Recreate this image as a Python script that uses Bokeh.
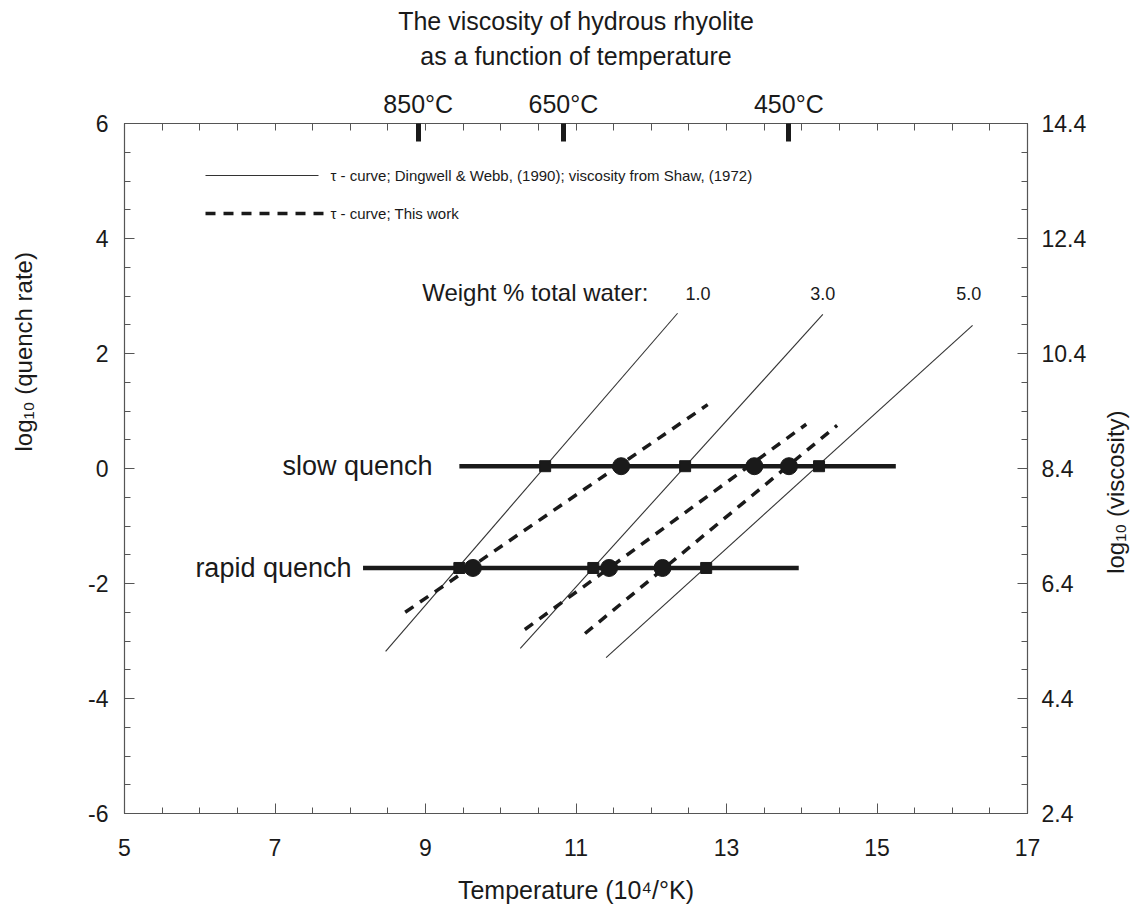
import math
from bokeh.plotting import figure
from bokeh.layouts import row, column
from bokeh.models import Range1d, LinearAxis, FixedTicker, CustomJSTickFormatter
from bokeh.embed import file_html
from bokeh.resources import INLINE
from bokeh.core.properties import value

# ---------------- data ----------------
water_labels = ["1.0", "3.0", "5.0"]
water_label_x = [12.62, 14.28, 16.22]
water_label_y = [3.05, 3.05, 3.05]

# tau-curves, Dingwell & Webb (1990) / Shaw (1972): thin solid lines
shaw_x0 = [8.47, 10.26, 11.40]
shaw_y0 = [-3.18, -3.13, -3.29]
shaw_x1 = [12.35, 14.28, 16.27]
shaw_y1 = [2.70, 2.68, 2.49]

# tau-curves, this work: thick dashed lines
this_x0 = [8.73, 10.32, 11.12]
this_y0 = [-2.50, -2.80, -2.87]
this_x1 = [12.75, 14.06, 14.47]
this_y1 = [1.11, 0.77, 0.75]

# quench-rate lines
quench_names = ["slow quench", "rapid quench"]
quench_y = [0.04, -1.73]
quench_x0 = [9.45, 8.17]
quench_x1 = [15.25, 13.96]
slow_sq_x = [10.59, 12.45, 14.23]
slow_ci_x = [11.60, 13.37, 13.83]
rapid_sq_x = [9.45, 11.23, 12.73]
rapid_ci_x = [9.63, 11.44, 12.15]

temps_C = [850, 650, 450]
temp_labels = ["850°C", "650°C", "450°C"]
temp_x = [1e4 / (t + 273.15) for t in temps_C]

x_major = [5, 7, 9, 11, 13, 15, 17]
x_minor = [5 + 0.5 * k for k in range(25)]
y_major = [-6, -4, -2, 0, 2, 4, 6]
y_minor = [-6 + 0.5 * k for k in range(25)]
visc_major = [2.4, 4.4, 6.4, 8.4, 10.4, 12.4, 14.4]
visc_minor = [round(2.4 + 0.5 * k, 1) for k in range(25)]

title_lines = ["The viscosity of hydrous rhyolite", "as a function of temperature"]
legend_texts = ["τ - curve; Dingwell & Webb, (1990); viscosity from Shaw, (1972)",
                "τ - curve; This work"]

# ---------------- layout ----------------
W, H = 1136, 913
TOP_H = 80                        # strip above the chart holding the title
SIDE_W = 36                       # strip at the right holding the right-axis title
MAIN_W, MAIN_H = W - SIDE_W, H - TOP_H
FL, FR, FT, FB = 124, 1027, 123, 813          # frame edges in window px
def cx(px):
    return 5 + (px - FL) * 12.0 / (FR - FL)
def cy(py):
    return 6 - (py - FT) * 12.0 / (FB - FT)

FONT = "Liberation Sans"
INK = "#1a1a1a"
FRAME = "#555555"
NB = "\u00a0"

def strip(w, h):
    f = figure(width=w, height=h, x_range=Range1d(0, w), y_range=Range1d(0, h),
               output_backend="svg", toolbar_location=None, title=None,
               x_axis_location=None, y_axis_location=None,
               min_border=0, min_border_left=0, min_border_right=0,
               min_border_top=0, min_border_bottom=0)
    f.xgrid.visible = False
    f.ygrid.visible = False
    f.outline_line_color = None
    f.background_fill_color = "white"
    f.border_fill_color = "white"
    return f

p = figure(width=MAIN_W, height=MAIN_H, x_range=Range1d(5, 17), y_range=Range1d(-6, 6),
           output_backend="svg", toolbar_location=None, title=None,
           x_axis_location=None, y_axis_location=None,
           min_border_left=FL, min_border_right=MAIN_W - FR,
           min_border_top=FT - TOP_H, min_border_bottom=H - FB)
p.xgrid.visible = False
p.ygrid.visible = False
p.outline_line_color = FRAME
p.outline_line_width = 1.2
p.background_fill_color = "white"
p.border_fill_color = "white"

def style_axis(ax, major_in=10, minor_in=6):
    ax.axis_line_color = FRAME
    ax.major_tick_line_color = FRAME
    ax.minor_tick_line_color = FRAME
    ax.major_tick_in = major_in
    ax.major_tick_out = 0
    ax.minor_tick_in = minor_in
    ax.minor_tick_out = 0
    ax.major_label_text_font = FONT
    ax.major_label_text_font_size = "23px"
    ax.major_label_text_color = INK
    ax.axis_label_text_font = FONT
    ax.axis_label_text_font_size = "24px"
    ax.axis_label_text_font_style = "normal"
    ax.axis_label_text_color = INK

plain = CustomJSTickFormatter(code="return tick.toString()")

bottom = LinearAxis(ticker=FixedTicker(ticks=x_major, minor_ticks=x_minor), formatter=plain,
                    axis_label="Temperature (10⁴/°K)")
style_axis(bottom)
bottom.axis_label_text_font_size = "25px"
bottom.major_label_standoff = 25
bottom.axis_label_standoff = 17
p.add_layout(bottom, "below")

left = LinearAxis(ticker=FixedTicker(ticks=y_major, minor_ticks=y_minor), formatter=plain,
                  axis_label=NB * 35 + "log₁₀ (quench rate)")
style_axis(left)
left.major_label_standoff = 16
left.axis_label_standoff = 48
p.add_layout(left, "left")

p.extra_y_ranges = {"visc": Range1d(2.4, 14.4)}
right = LinearAxis(y_range_name="visc", ticker=FixedTicker(ticks=visc_major, minor_ticks=visc_minor))
style_axis(right)
right.major_label_standoff = 14
p.add_layout(right, "right")

top = LinearAxis(ticker=FixedTicker(ticks=temp_x, minor_ticks=x_minor),
                 formatter=CustomJSTickFormatter(args=dict(labs=temp_labels), code="return labs[index]"))
style_axis(top, major_in=18, minor_in=7)
top.major_tick_line_color = INK
top.major_tick_line_width = 5
top.major_label_text_font_size = "25px"
top.major_label_standoff = 6
p.add_layout(top, "above")

# solid tau curves
p.segment(x0=shaw_x0, y0=shaw_y0, x1=shaw_x1, y1=shaw_y1, line_color="#333333", line_width=1.1)
# dashed tau curves
p.segment(x0=this_x0, y0=this_y0, x1=this_x1, y1=this_y1, line_color=INK, line_width=3.5,
          line_dash="10 8")

# quench lines
p.segment(x0=quench_x0, y0=quench_y, x1=quench_x1, y1=quench_y, line_color=INK, line_width=4.5)
p.scatter(x=slow_sq_x, y=[quench_y[0]] * 3, marker="square", size=11, color=INK)
p.scatter(x=rapid_sq_x, y=[quench_y[1]] * 3, marker="square", size=11, color=INK)
p.scatter(x=slow_ci_x, y=[quench_y[0]] * 3, marker="circle", size=17, color=INK)
p.scatter(x=rapid_ci_x, y=[quench_y[1]] * 3, marker="circle", size=17, color=INK)

p.text(x=[cx(432), cx(351)], y=quench_y, text=quench_names, text_align="right",
       text_baseline="middle", text_font=value(FONT), text_font_size="27px", text_color=INK)

p.text(x=[cx(648)], y=[cy(292)], text=["Weight % total water:"], text_align="right",
       text_baseline="middle", text_font=value(FONT), text_font_size="24px", text_color=INK)
p.text(x=water_label_x, y=water_label_y, text=water_labels, text_align="center",
       text_baseline="middle", text_font=value(FONT), text_font_size="18px", text_color=INK)

# legend
p.segment(x0=[cx(205)], y0=[cy(175)], x1=[cx(318)], y1=[cy(175)], line_color="#333333", line_width=1.1)
p.segment(x0=[cx(205)], y0=[cy(213)], x1=[cx(323)], y1=[cy(213)], line_color=INK, line_width=3.5,
          line_dash="10 8")
p.text(x=[cx(330), cx(330)], y=[cy(175), cy(213)], text=legend_texts,
       text_align="left", text_baseline="middle", text_font=value(FONT), text_font_size="15px",
       text_color=INK)

# title strip (window px units, y measured upward inside the strip)
head = strip(W, TOP_H)
head.text(x=[(FL + FR) / 2.0] * 2, y=[TOP_H - 20, TOP_H - 55], text=title_lines,
          text_align="center", text_baseline="middle", text_font=value(FONT),
          text_font_size="25px", text_color=INK)

# right-axis title strip
side = strip(SIDE_W, MAIN_H)
side.text(x=[1115 - MAIN_W], y=[H - 525], text=["log₁₀ (viscosity)"], angle=math.pi / 2,
          text_align="center", text_baseline="middle", text_font=value(FONT),
          text_font_size="24px", text_color=INK)

layout = column(head, row(p, side, spacing=0), spacing=0)
open("out.html", "w").write(file_html(layout, INLINE))
